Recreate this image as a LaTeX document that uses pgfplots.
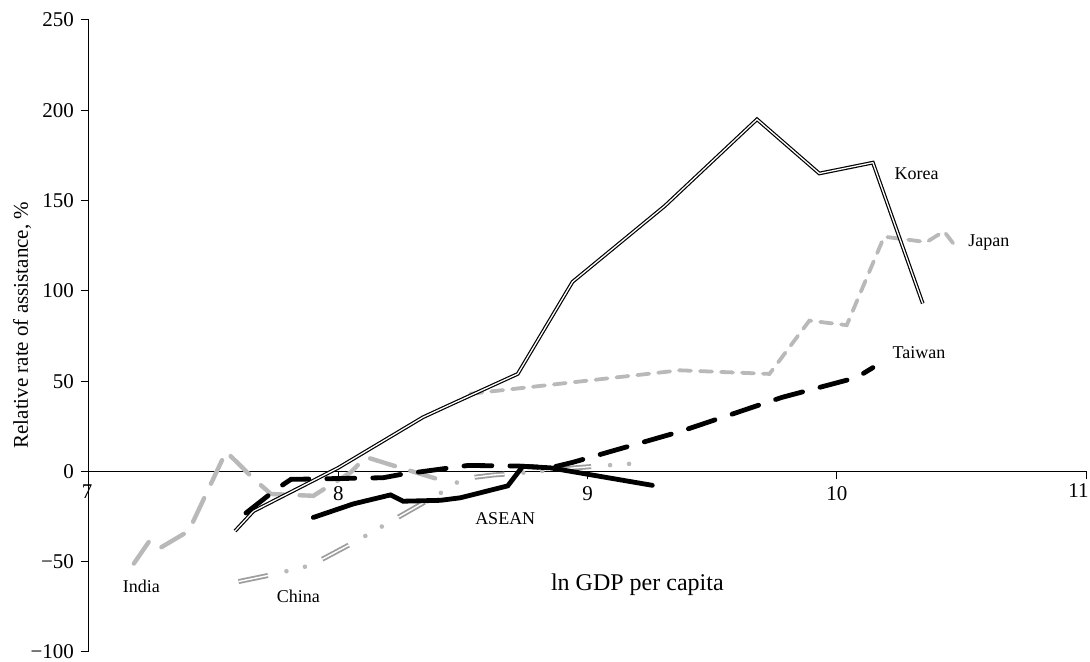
\documentclass[border=0pt]{standalone}
\usepackage{fontspec}
\setmainfont{Liberation Serif}
\usepackage{pgfplots}
\pgfplotsset{compat=1.18}
\definecolor{lg}{RGB}{185,185,185}
\begin{document}
\begin{tikzpicture}
\useasboundingbox (-44.5pt,-5pt) rectangle (500.5pt,326pt);
\begin{axis}[
  at={(0,0)}, anchor=south west,
  scale only axis, width=498.5pt, height=316pt,
  xmin=7, xmax=11, ymin=-100, ymax=250,
  axis x line=middle, axis y line=left,
  axis line style={-, line width=0.5pt},
  xtick={7,8,9,10,11}, xticklabels={,8,9,10,},
  ytick={-100,-50,0,50,100,150,200,250},
  yticklabels={−100,−50,0,50,100,150,200,250},
  hide obscured x ticks=false,
  tick align=outside, major tick length=4pt,
  tick style={line width=0.5pt, black},
  ticklabel style={font=\fontsize{10.5}{12}\selectfont},
  /pgf/number format/assume math mode=true,
  clip=false,
]
% India
\addplot[lg, line width=2.2pt, line cap=round, dash pattern=on 13pt off 8pt] coordinates {
(7.18,-51) (7.245,-38) (7.29,-42) (7.4,-33) (7.55,11) (7.66,-4) (7.73,-12.5) (7.9,-13.5) (8.05,-0.5) (8.11,8) (8.25,2) (8.44,-6)};
% Japan
\addplot[lg, line width=1.9pt, line cap=round, dash pattern=on 6pt off 4.5pt] coordinates {
(8.53,43) (9.37,56) (9.73,54) (9.89,83.5) (10.04,81) (10.19,130) (10.36,127) (10.43,133) (10.48,124)};
% China double dashes
\addplot[lg!85!black, line width=0.9pt, double=white, double distance=0.7pt, dash pattern=on 15pt off 28.5pt] coordinates {
(7.6,-61) (7.74,-57) (7.89,-52) (8.08,-38) (8.41,-12) (8.5,-4) (8.62,-2) (8.76,-0.5) (8.95,2) (9.14,4) (9.21,4.5)};
\addplot[lg, line width=2.3pt, line cap=round, dash pattern=on 0pt off 9.5pt on 0pt off 34pt, dash phase=19pt] coordinates {
(7.6,-61) (7.74,-57) (7.89,-52) (8.08,-38) (8.41,-12) (8.5,-4) (8.62,-2) (8.76,-0.5) (8.95,2) (9.14,4) (9.21,4.5)};
% Korea
\addplot[black, line width=0.6pt, double=white, double distance=0.65pt, line join=miter] coordinates {
(7.586,-33) (7.66,-22) (8.0,2) (8.34,30) (8.45,37) (8.72,54) (8.94,105) (9.31,147) (9.68,195) (9.93,165) (10.145,171) (10.345,93)};
% Taiwan
\addplot[black, line width=2.4pt, line cap=round, dash pattern=on 14pt off 9pt] coordinates {
(7.63,-23) (7.75,-10) (7.81,-4.4) (8.18,-3.5) (8.25,-1.7) (8.52,3.3) (8.72,3) (8.85,2) (8.94,5) (9.37,22) (9.78,41) (10.08,52) (10.145,57.5)};
% ASEAN
\addplot[black, line width=2.4pt, line cap=round] coordinates {
(7.9,-25.5) (8.06,-18) (8.21,-13) (8.26,-16.5) (8.41,-16) (8.49,-14.6) (8.68,-8) (8.74,2.8) (8.85,2) (9.26,-7.7)};
\node[font=\fontsize{9}{10}\selectfont] at (axis cs:10.32,165) {Korea};
\node[font=\fontsize{9}{10}\selectfont] at (axis cs:10.61,127) {Japan};
\node[font=\fontsize{9}{10}\selectfont] at (axis cs:10.33,66) {Taiwan};
\node[font=\fontsize{9}{10}\selectfont] at (axis cs:8.67,-26) {ASEAN};
\node[font=\fontsize{9}{10}\selectfont] at (axis cs:7.21,-63.5) {India};
\node[font=\fontsize{9}{10}\selectfont] at (axis cs:7.84,-69) {China};
\node[font=\fontsize{12}{14}\selectfont] at (axis cs:9.2,-63) {ln GDP per capita};
\node[rotate=90, font=\fontsize{10.5}{12}\selectfont] at ([xshift=-33.5pt]axis cs:7,81) {Relative rate of assistance, \%};
\node[font=\fontsize{10.5}{12}\selectfont, anchor=north] at ([xshift=-1pt,yshift=-3pt]axis cs:7,0) {7};
\node[font=\fontsize{10.5}{12}\selectfont, anchor=north east, inner sep=0pt] at ([xshift=1.5pt,yshift=-6pt]axis cs:11,0) {11};
\end{axis}
\end{tikzpicture}
\end{document}
